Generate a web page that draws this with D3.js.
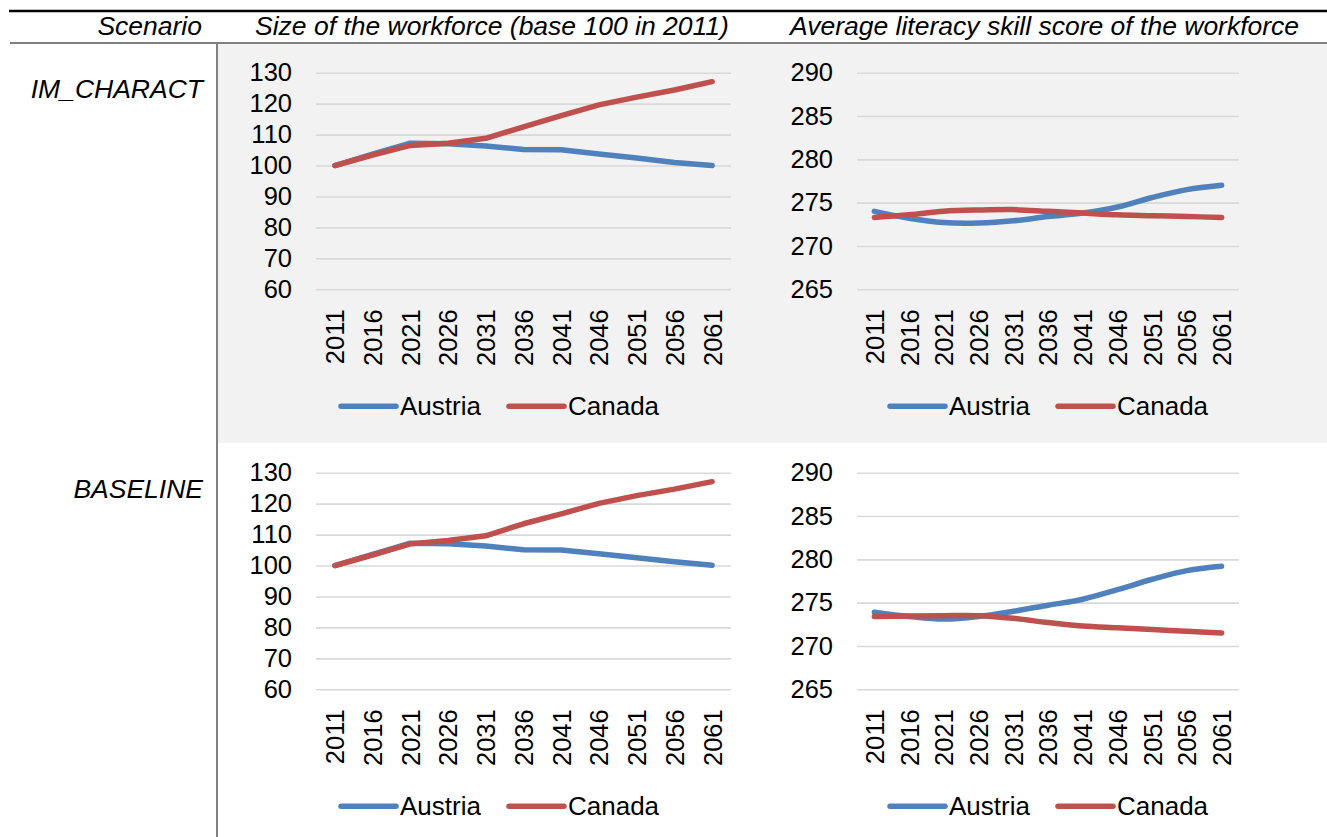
<!DOCTYPE html>
<html>
<head>
<meta charset="utf-8">
<script src="https://cdn.jsdelivr.net/npm/d3@7"></script>
<style>
  body { margin: 0; background: #fff; }
  svg { display: block; font-family: "Liberation Sans", Arial, sans-serif; }
</style>
</head>
<body>
<svg id="chart"></svg>
<script>
// Data
const years = [2011, 2016, 2021, 2026, 2031, 2036, 2041, 2046, 2051, 2056, 2061]
const countries = ['Austria', 'Canada']
const scenarios = ['IM_CHARACT', 'BASELINE']
const headers = ['Scenario', 'Size of the workforce (base 100 in 2011)', 'Average literacy skill score of the workforce']

const sizeImAustria = [100, 103.7, 107.2, 107.0, 106.3, 105.2, 105.1, 103.7, 102.4, 101.0, 100.0]
const sizeImCanada = [100, 103.4, 106.5, 107.2, 108.8, 112.5, 116.1, 119.6, 122.1, 124.4, 127.1]
const sizeBaseAustria = [100, 103.6, 107.2, 107.0, 106.3, 105.1, 105.0, 103.8, 102.5, 101.2, 100.1]
const sizeBaseCanada = [100, 103.4, 107.0, 108.1, 109.6, 113.5, 116.7, 120.1, 122.6, 124.7, 127.1]

const litImAustria = [274.0, 273.2, 272.7, 272.65, 272.9, 273.4, 273.8, 274.5, 275.6, 276.5, 277.0]
const litImCanada = [273.3, 273.6, 274.0, 274.15, 274.2, 274.0, 273.8, 273.6, 273.5, 273.4, 273.3]
const litBaseAustria = [273.9, 273.4, 273.1, 273.4, 274.0, 274.7, 275.4, 276.5, 277.7, 278.7, 279.2]
const litBaseCanada = [273.4, 273.45, 273.5, 273.5, 273.2, 272.7, 272.3, 272.1, 271.9, 271.7, 271.5]

const sizeDomain = [60, 130]
const sizeTicks = [60, 70, 80, 90, 100, 110, 120, 130]
const litDomain = [265, 290]
const litTicks = [265, 270, 275, 280, 285, 290]

const colors = ['#4f81bd', '#c0504d']

const width = 1327
const height = 837
const font = '"Liberation Sans", Arial, sans-serif'

const svg = d3.select('#chart')
  .attr('width', width)
  .attr('height', height)

// Table frame
svg.append('rect')
  .attr('x', 218).attr('y', 44)
  .attr('width', width - 218).attr('height', 399)
  .attr('fill', '#f2f2f2')

svg.append('line')
  .attr('x1', 9).attr('x2', width).attr('y1', 11).attr('y2', 11)
  .attr('stroke', '#000').attr('stroke-width', 2.5)

svg.append('line')
  .attr('x1', 10).attr('x2', width).attr('y1', 43).attr('y2', 43)
  .attr('stroke', '#808080').attr('stroke-width', 2)

svg.append('line')
  .attr('x1', 217).attr('x2', 217).attr('y1', 44).attr('y2', height)
  .attr('stroke', '#808080').attr('stroke-width', 2)

// Header row
const headerPos = [[202, 'end'], [255, 'start'], [790, 'start']]
svg.append('g')
  .selectAll('text')
  .data(headers)
  .enter().append('text')
  .attr('x', (d, i) => headerPos[i][0])
  .attr('y', 35)
  .attr('text-anchor', (d, i) => headerPos[i][1])
  .attr('font-size', '26.5px')
  .attr('font-style', 'italic')
  .attr('fill', '#000')
  .text(d => d)

// Row labels
svg.append('g')
  .selectAll('text')
  .data(scenarios)
  .enter().append('text')
  .attr('x', 203)
  .attr('y', (d, i) => 98 + i * 400)
  .attr('text-anchor', 'end')
  .attr('font-size', '26.5px')
  .attr('font-style', 'italic')
  .attr('fill', '#000')
  .text(d => d)

const renderPanel = (opts) => {
  const { left, right, top, bottom, domain, ticks, series, smooth, legendX } = opts

  const x = d3.scalePoint()
    .domain(years)
    .range([left, right])
    .padding(0.5)

  const y = d3.scaleLinear()
    .domain(domain)
    .range([bottom, top])

  // Gridlines + y labels
  const yAxis = svg.append('g')
    .attr('transform', `translate(${left},0)`)
    .call(d3.axisLeft(y)
      .tickValues(ticks)
      .tickSize(-(right - left))
      .tickPadding(24)
      .tickFormat(d3.format('d')))

  yAxis.select('.domain').remove()
  yAxis.selectAll('line')
    .attr('stroke', '#d9d9d9')
    .attr('stroke-width', 1.6)
  yAxis.selectAll('text')
    .attr('font-family', font)
    .attr('font-size', '25.5px')
    .attr('fill', '#000')

  // Rotated year labels
  const xAxis = svg.append('g')
    .attr('transform', `translate(0,${bottom})`)
    .call(d3.axisBottom(x).tickSize(0))

  xAxis.select('.domain').remove()
  xAxis.selectAll('text')
    .attr('font-family', font)
    .attr('font-size', '25.5px')
    .attr('fill', '#000')
    .attr('transform', 'rotate(-90)')
    .attr('x', -20)
    .attr('y', 0)
    .attr('dy', '0.35em')
    .style('text-anchor', 'end')

  const line = d3.line()
    .x((d, i) => x(years[i]))
    .y(d => y(d))
    .curve(smooth ? d3.curveCatmullRom.alpha(0.5) : d3.curveLinear)

  svg.append('g')
    .selectAll('path')
    .data(series)
    .enter().append('path')
    .attr('d', d => line(d))
    .attr('fill', 'none')
    .attr('stroke', (d, i) => colors[i])
    .attr('stroke-width', 5.5)
    .attr('stroke-linecap', 'round')
    .attr('stroke-linejoin', 'round')

  // Legend
  const legendY = bottom + 117
  const legend = svg.append('g')
    .selectAll('g')
    .data(countries)
    .enter().append('g')
    .attr('transform', (d, i) => `translate(${legendX[i]},${legendY})`)

  legend.append('line')
    .attr('x1', 0).attr('x2', 55)
    .attr('y1', 0).attr('y2', 0)
    .attr('stroke', (d, i) => colors[i])
    .attr('stroke-width', 5.5)
    .attr('stroke-linecap', 'round')

  legend.append('text')
    .attr('x', 59)
    .attr('y', 0)
    .attr('dy', '0.35em')
    .attr('font-size', '26px')
    .attr('fill', '#000')
    .text(d => d)
}

const rowTops = [72.7, 472.7]
const rowBottoms = [289.3, 689.3]

renderPanel({
  left: 316, right: 731, top: rowTops[0], bottom: rowBottoms[0],
  domain: sizeDomain, ticks: sizeTicks,
  series: [sizeImAustria, sizeImCanada], smooth: false, legendX: [341, 509]
})
renderPanel({
  left: 857, right: 1239, top: rowTops[0], bottom: rowBottoms[0],
  domain: litDomain, ticks: litTicks,
  series: [litImAustria, litImCanada], smooth: true, legendX: [890, 1058]
})
renderPanel({
  left: 316, right: 731, top: rowTops[1], bottom: rowBottoms[1],
  domain: sizeDomain, ticks: sizeTicks,
  series: [sizeBaseAustria, sizeBaseCanada], smooth: false, legendX: [341, 509]
})
renderPanel({
  left: 857, right: 1239, top: rowTops[1], bottom: rowBottoms[1],
  domain: litDomain, ticks: litTicks,
  series: [litBaseAustria, litBaseCanada], smooth: true, legendX: [890, 1058]
})
</script>
</body>
</html>
